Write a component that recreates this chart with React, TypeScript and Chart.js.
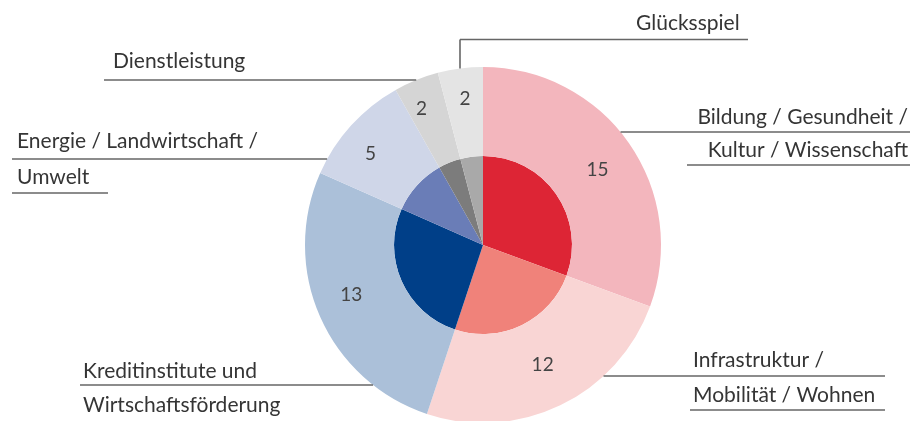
import { useEffect, useRef } from "react";
import { Chart, registerables } from "chart.js";

Chart.register(...registerables);

// ---- data ----
const categories = [
  "Bildung / Gesundheit / Kultur / Wissenschaft",
  "Infrastruktur / Mobilität / Wohnen",
  "Kreditinstitute und Wirtschaftsförderung",
  "Energie / Landwirtschaft / Umwelt",
  "Dienstleistung",
  "Glücksspiel",
];
const values = [15, 12, 13, 5, 2, 2];
const labelLines = [
  ["Bildung / Gesundheit /", "Kultur / Wissenschaft"],
  ["Infrastruktur /", "Mobilität / Wohnen"],
  ["Kreditinstitute und", "Wirtschaftsförderung"],
  ["Energie / Landwirtschaft /", "Umwelt"],
  ["Dienstleistung"],
  ["Glücksspiel"],
];

// ---- styles ----
const outerColors = ["#f3b6bd", "#f9d5d4", "#abc0d9", "#cfd6e8", "#d5d5d5", "#e4e4e4"];
const innerColors = ["#dd2535", "#f0827a", "#003f88", "#6a7db7", "#7c7c7c", "#a9a9a9"];
const FONT = "Lato, 'Noto Sans', sans-serif";
const TEXT_COLOR = "#353535";
const LINE_COLOR = "#666666";
// small pixel nudges of the value labels relative to the ring centroid
const valueLabelNudge: [number, number][] = [
  [0, 5],
  [-1, -6],
  [-4, -7],
  [-9, 3],
  [-9, -7],
  [0, -8],
];

type Row = { baseline: number; line?: { y: number; from: number | "pie"; to: number | "pie" } };
type Callout = { align: "left" | "right"; x: number; rows: Row[]; vertical?: { x: number; y: number } };

const calloutLayout: Callout[] = [
  {
    align: "right",
    x: 908,
    rows: [
      { baseline: 124, line: { y: 132, from: "pie", to: 910 } },
      { baseline: 157, line: { y: 165, from: 687, to: 910 } },
    ],
  },
  {
    align: "left",
    x: 693,
    rows: [
      { baseline: 367, line: { y: 376, from: "pie", to: 885 } },
      { baseline: 402, line: { y: 410, from: 690, to: 885 } },
    ],
  },
  {
    align: "left",
    x: 83,
    rows: [
      { baseline: 378, line: { y: 385, from: 80, to: "pie" } },
      { baseline: 412 },
    ],
  },
  {
    align: "left",
    x: 17,
    rows: [
      { baseline: 148, line: { y: 159, from: 12, to: "pie" } },
      { baseline: 184, line: { y: 193, from: 12, to: 108 } },
    ],
  },
  {
    align: "left",
    x: 113,
    rows: [{ baseline: 68, line: { y: 80, from: 104, to: "pie" } }],
  },
  {
    align: "left",
    x: 636,
    rows: [{ baseline: 30, line: { y: 39.5, from: 460, to: 748 } }],
    vertical: { x: 460, y: 39.5 },
  },
];

const calloutPlugin = {
  id: "callouts",
  afterDatasetsDraw(chart: any) {
    const ctx: CanvasRenderingContext2D = chart.ctx;
    const meta = chart.getDatasetMeta(0);
    const arcs = meta.data;
    if (!arcs.length) return;
    const cx = arcs[0].x;
    const cy = arcs[0].y;
    const R = arcs[0].outerRadius;

    ctx.save();
    // value labels on outer ring
    ctx.font = `19px ${FONT}`;
    ctx.fillStyle = "#444444";
    ctx.textAlign = "center";
    ctx.textBaseline = "middle";
    arcs.forEach((arc: any, i: number) => {
      const mid = (arc.startAngle + arc.endAngle) / 2;
      const r = arc.innerRadius + 0.57 * (arc.outerRadius - arc.innerRadius);
      const [nx, ny] = valueLabelNudge[i] || [0, 0];
      ctx.fillText(String(values[i]), cx + Math.cos(mid) * r + nx, cy + Math.sin(mid) * r + ny);
    });

    // callouts
    ctx.strokeStyle = LINE_COLOR;
    ctx.lineWidth = 1.6;
    ctx.font = `21px ${FONT}`;
    ctx.fillStyle = TEXT_COLOR;
    ctx.textBaseline = "alphabetic";
    calloutLayout.forEach((c, i) => {
      ctx.textAlign = c.align;
      c.rows.forEach((row, j) => {
        const text = labelLines[i][j];
        if (text) ctx.fillText(text, c.x, row.baseline);
        if (row.line) {
          const { y } = row.line;
          const dx = Math.sqrt(Math.max(R * R - (y - cy) * (y - cy), 0));
          const resolve = (v: number | "pie", other: number | "pie") => {
            if (v !== "pie") return v;
            const o = other as number;
            return o > cx ? cx + dx : cx - dx;
          };
          const x1 = resolve(row.line.from, row.line.to);
          const x2 = resolve(row.line.to, row.line.from);
          ctx.beginPath();
          ctx.moveTo(x1, y);
          ctx.lineTo(x2, y);
          ctx.stroke();
        }
      });
      if (c.vertical) {
        const vx = c.vertical.x;
        const dy = Math.sqrt(Math.max(R * R - (vx - cx) * (vx - cx), 0));
        ctx.beginPath();
        ctx.moveTo(vx, c.vertical.y);
        ctx.lineTo(vx, cy - dy);
        ctx.stroke();
      }
    });
    ctx.restore();
  },
};

export default function App() {
  const canvasRef = useRef<HTMLCanvasElement | null>(null);

  useEffect(() => {
    if (!canvasRef.current) return;
    const chart = new Chart(canvasRef.current, {
      type: "doughnut",
      data: {
        labels: categories,
        datasets: [
          { data: values, backgroundColor: outerColors, borderWidth: 0 },
          { data: values, backgroundColor: innerColors, borderWidth: 0 },
        ],
      },
      options: {
        responsive: false,
        animation: false,
        cutout: 0,
        rotation: 0,
        layout: { padding: { left: 305, right: 249, top: 67, bottom: 67 } },
        plugins: {
          legend: { display: false },
          tooltip: { enabled: false },
        },
      },
      plugins: [calloutPlugin],
    });
    return () => chart.destroy();
  }, []);

  return (
    <div
      style={{
        position: "absolute",
        left: 0,
        top: 0,
        width: 910,
        height: 421,
        overflow: "hidden",
        background: "#ffffff",
      }}
    >
      <canvas ref={canvasRef} width={910} height={490} style={{ width: 910, height: 490, display: "block" }} />
    </div>
  );
}
